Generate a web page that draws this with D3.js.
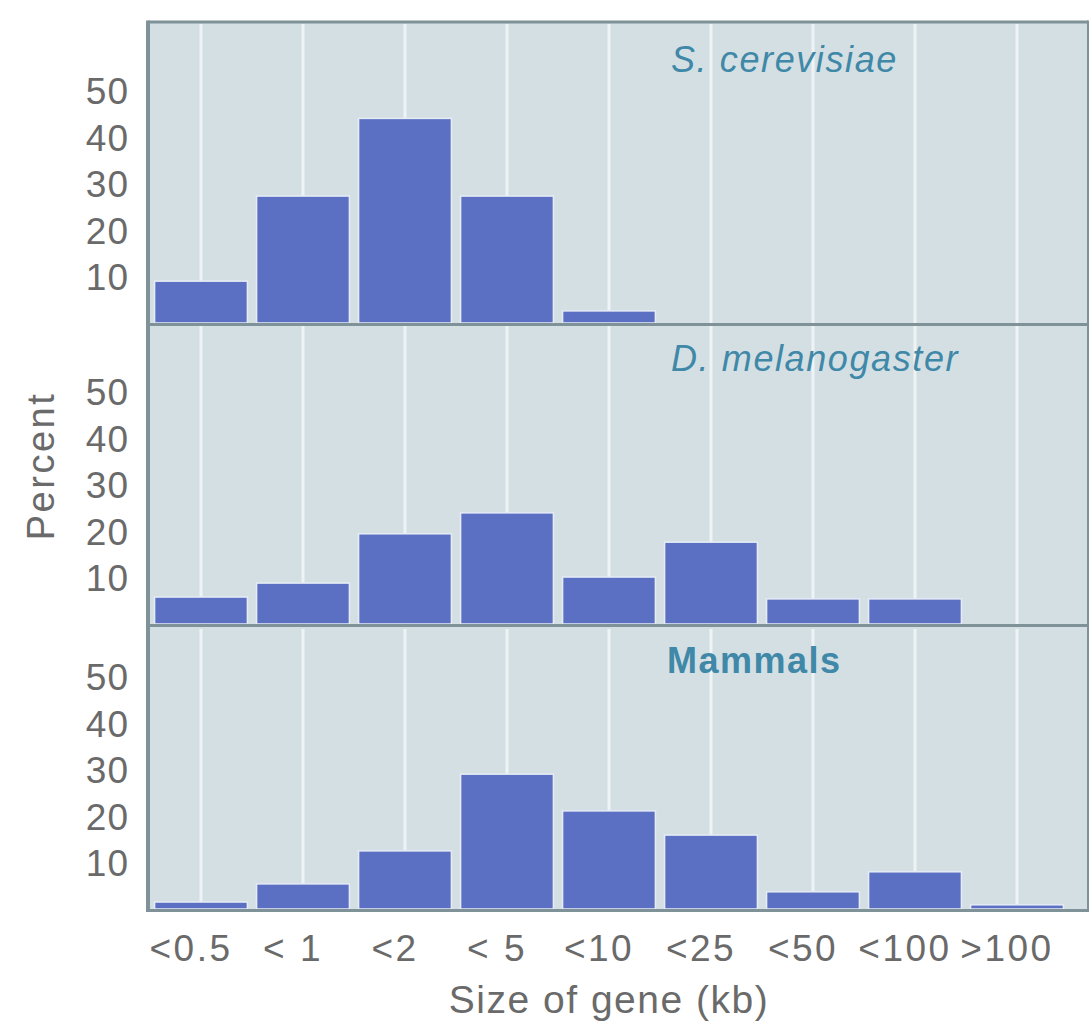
<!DOCTYPE html>
<html>
<head>
<meta charset="utf-8">
<script src="https://cdn.jsdelivr.net/npm/d3@7"></script>
<style>
  html, body { margin: 0; padding: 0; background: #ffffff; }
  svg { display: block; }
</style>
</head>
<body>
<svg id="chart" width="1089" height="1032"></svg>
<script>
// ---- data ----
const categories = ["<0.5", "< 1", "<2", "< 5", "<10", "<25", "<50", "<100", ">100"];
const panelNames = ["S. cerevisiae", "D. melanogaster", "Mammals"];
const yeastValues = [9, 27.3, 44, 27.3, 2.6, 0, 0, 0, 0];
const flyValues = [5.8, 8.8, 19.4, 23.9, 10.1, 17.6, 5.4, 5.4, 0];
const mammalValues = [1.5, 5.4, 12.5, 29, 21.1, 15.9, 3.7, 8, 0.9];
const yTicks = [10, 20, 30, 40, 50];
const xTitle = "Size of gene (kb)";
const yTitle = "Percent";

const series = [yeastValues, flyValues, mammalValues];

// ---- layout ----
const svg = d3.select("#chart");
const left = 148, right = 1088;
const panels = [
  { top: 22, base: 323, italic: true, titleY: 72 },
  { top: 324, base: 624, italic: true, titleY: 371 },
  { top: 627, base: 909, italic: false, titleY: 673 }
];
const pxPerUnit = 4.65;
const FONT = "Liberation Sans, Arial, sans-serif";

const x = d3.scaleBand().domain(categories).range([150, 1068])
  .paddingInner(0.09).paddingOuter(0.045);

const bgColor = "#d4dfe4";
const barColor = "#5b70c2";
const borderColor = "#7f9297";
const textGray = "#6a6a6a";
const titleColor = "#3f88a8";

// background of whole plotting area
svg.append("rect")
  .attr("x", left).attr("y", panels[0].top)
  .attr("width", right - left).attr("height", panels[2].base + 3 - panels[0].top)
  .attr("fill", bgColor);

panels.forEach((p, i) => {
  const y = d3.scaleLinear().domain([0, 50]).range([p.base, p.base - 50 * pxPerUnit]);
  const g = svg.append("g");

  // vertical white gridlines at category centres
  g.selectAll("line.grid").data(categories).enter().append("line")
    .attr("class", "grid")
    .attr("x1", d => x(d) + x.bandwidth() / 2)
    .attr("x2", d => x(d) + x.bandwidth() / 2)
    .attr("y1", p.top + 2).attr("y2", p.base)
    .attr("stroke", "#eef3f6").attr("stroke-width", 3);

  // bars
  g.selectAll("rect.bar").data(categories.map((c, j) => ({ c, v: series[i][j] })))
    .enter().append("rect")
    .attr("class", "bar")
    .filter(d => d.v > 0)
    .attr("x", d => x(d.c))
    .attr("width", x.bandwidth())
    .attr("y", d => y(d.v))
    .attr("height", d => y(0) - y(d.v))
    .attr("fill", barColor)
    .attr("stroke", "#e6ecf6").attr("stroke-width", 1.5);

  // y axis labels (outside left)
  const axis = d3.axisLeft(y).tickValues(yTicks).tickSize(0).tickPadding(0);
  const ag = svg.append("g").attr("transform", `translate(129,0)`).call(axis);
  ag.select(".domain").remove();
  ag.selectAll("text")
    .attr("fill", textGray)
    .attr("font-family", FONT)
    .attr("font-size", 37)
    .attr("letter-spacing", 1)
    .attr("dy", "0.36em");

  // panel title
  svg.append("text")
    .attr("x", p.italic ? 671 : 667).attr("y", p.titleY)
    .attr("fill", titleColor)
    .attr("font-family", FONT)
    .attr("font-size", 36)
    .attr("font-style", p.italic ? "italic" : "normal")
    .attr("font-weight", p.italic ? "normal" : "bold")
    .attr("letter-spacing", p.italic ? 1.6 : 1.5)
    .text(panelNames[i]);

  // bottom border / separator
  svg.append("line")
    .attr("x1", left).attr("x2", right)
    .attr("y1", p.base + 1.5).attr("y2", p.base + 1.5)
    .attr("stroke", borderColor).attr("stroke-width", 3);
});

// top border and left border
svg.append("line").attr("x1", left).attr("x2", right)
  .attr("y1", panels[0].top).attr("y2", panels[0].top)
  .attr("stroke", borderColor).attr("stroke-width", 3);
svg.append("line").attr("x1", left).attr("x2", left)
  .attr("y1", panels[0].top - 1.5).attr("y2", panels[2].base + 3)
  .attr("stroke", borderColor).attr("stroke-width", 4);
svg.append("line").attr("x1", right).attr("x2", right)
  .attr("y1", panels[0].top - 1.5).attr("y2", panels[2].base + 3)
  .attr("stroke", borderColor).attr("stroke-width", 2);

// x axis labels
const xAxis = d3.axisBottom(x).tickSize(0).tickPadding(0);
const xg = svg.append("g").attr("transform", `translate(-10,${panels[2].base + 52})`).call(xAxis);
xg.select(".domain").remove();
xg.selectAll("text")
  .attr("fill", textGray)
  .attr("font-family", FONT)
  .attr("font-size", 37)
  .attr("dy", "0")
  .attr("letter-spacing", 2.5);

// axis titles
svg.append("text")
  .attr("x", 609).attr("y", 1013)
  .attr("text-anchor", "middle")
  .attr("fill", textGray)
  .attr("font-family", FONT)
  .attr("font-size", 39)
  .attr("letter-spacing", 1.5)
  .text(xTitle);

svg.append("text")
  .attr("transform", "translate(54,466) rotate(-90)")
  .attr("text-anchor", "middle")
  .attr("fill", textGray)
  .attr("font-family", FONT)
  .attr("font-size", 38)
  .attr("letter-spacing", 2.5)
  .text(yTitle);
</script>
</body>
</html>
